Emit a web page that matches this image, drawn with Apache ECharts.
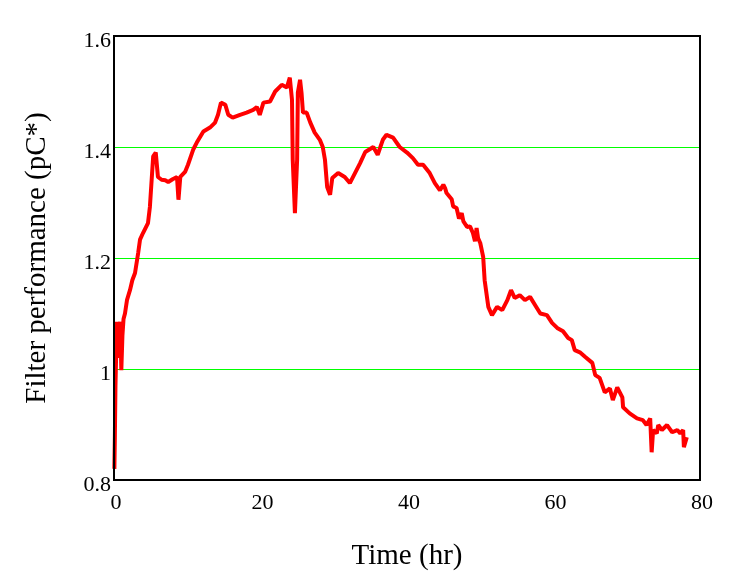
<!DOCTYPE html>
<html>
<head>
<meta charset="utf-8">
<script src="https://cdn.jsdelivr.net/npm/echarts@6/dist/echarts.min.js"></script>
<style>
html,body{margin:0;padding:0;background:#fff;}
#chart{width:738px;height:588px;}
</style>
</head>
<body>
<div id="chart"></div>
<script>
var timeHr = [0.05,0.12,0.2,0.3,0.4,0.55,0.7,0.85,1.0,1.15,1.3,1.5,1.77,2.18,2.5,2.87,3.3,3.55,3.96,4.64,4.9,5.2,5.35,5.7,6.0,6.5,7.0,7.4,8.0,8.6,8.8,8.95,9.05,9.7,10.1,10.8,11.3,12.2,13.1,13.8,14.2,14.6,15.2,15.6,16.2,17.2,18.1,19.0,19.5,19.9,20.4,21.3,22.0,22.9,23.6,24.0,24.3,24.4,24.7,25.0,25.1,25.4,25.6,25.8,26.3,26.8,27.4,28.1,28.5,28.8,29.1,29.5,29.8,30.6,31.5,32.2,32.9,33.6,34.3,35.4,36.0,36.7,37.2,38.1,39.0,40.0,40.8,41.5,42.2,43.1,43.8,44.5,44.96,45.2,45.4,46.1,46.3,46.77,47.1,47.47,47.7,48.2,48.6,49.0,49.28,49.5,49.7,50.0,50.4,50.6,51.1,51.6,52.3,53.0,53.7,54.2,54.7,55.4,56.1,56.8,57.5,58.2,59.1,59.8,60.5,61.3,62.0,62.5,62.9,63.6,64.3,65.3,65.7,66.3,67.0,67.7,68.1,68.7,69.4,69.5,70.4,71.4,72.2,72.7,73.2,73.4,73.6,74.1,74.3,74.8,75.5,76.2,76.9,77.3,77.7,77.8,78.2];
var filterPerf = [0.82,0.88,0.97,1.03,1.085,1.02,1.07,1.085,0.998,1.06,1.09,1.1,1.124,1.142,1.16,1.173,1.209,1.233,1.245,1.263,1.292,1.353,1.383,1.39,1.346,1.341,1.34,1.337,1.342,1.346,1.305,1.305,1.346,1.355,1.368,1.395,1.408,1.428,1.435,1.444,1.458,1.48,1.476,1.458,1.453,1.458,1.462,1.467,1.472,1.458,1.48,1.482,1.5,1.512,1.507,1.525,1.485,1.377,1.281,1.377,1.498,1.521,1.498,1.462,1.462,1.444,1.426,1.413,1.4,1.377,1.328,1.314,1.344,1.353,1.346,1.335,1.353,1.371,1.391,1.4,1.386,1.413,1.422,1.417,1.4,1.39,1.38,1.368,1.368,1.353,1.335,1.322,1.332,1.326,1.317,1.306,1.293,1.29,1.271,1.281,1.266,1.256,1.257,1.245,1.23,1.254,1.236,1.227,1.202,1.16,1.112,1.097,1.112,1.106,1.124,1.142,1.128,1.133,1.124,1.13,1.115,1.1,1.097,1.083,1.074,1.068,1.056,1.052,1.034,1.03,1.022,1.011,0.989,0.984,0.958,0.965,0.944,0.967,0.949,0.931,0.92,0.911,0.908,0.899,0.911,0.85,0.89,0.884,0.899,0.89,0.899,0.886,0.89,0.884,0.89,0.859,0.877];
var xTicks = {min: 0, max: 80, interval: 20};
var yTicks = {min: 0.8, max: 1.6, interval: 0.2};
var xName = 'Time (hr)';
var yName = 'Filter performance (pC*)';

var seriesData = timeHr.map(function (t, i) { return [t, filterPerf[i]]; });
var serif = '"Liberation Serif", "DejaVu Serif", serif';

var chart = echarts.init(document.getElementById('chart'));
chart.setOption({
  animation: false,
  backgroundColor: '#fff',
  grid: {left: 114, top: 36, right: 38, bottom: 108, show: true, borderColor: '#000', borderWidth: 2, backgroundColor: 'transparent', z: 5},
  xAxis: {
    type: 'value', min: xTicks.min, max: xTicks.max, interval: xTicks.interval,
    name: xName, nameLocation: 'middle', nameGap: 62,
    nameTextStyle: {fontFamily: serif, fontSize: 29, color: '#000'},
    axisLine: {show: false}, axisTick: {show: false}, splitLine: {show: false},
    axisLabel: {fontFamily: serif, fontSize: 22, color: '#000', margin: 12, padding: [0, 0, 0, 4]}
  },
  yAxis: {
    type: 'value', min: yTicks.min, max: yTicks.max, interval: yTicks.interval,
    name: yName, nameLocation: 'middle', nameGap: 62,
    nameTextStyle: {fontFamily: serif, fontSize: 29, color: '#000'},
    axisLine: {show: false}, axisTick: {show: false},
    splitLine: {show: true, showMinLine: false, showMaxLine: false, lineStyle: {color: '#00ff00', width: 1}},
    axisLabel: {fontFamily: serif, fontSize: 22, color: '#000', margin: 3, verticalAlign: 'top', lineHeight: 10,
      formatter: function (v) { return String(Math.round(v * 10) / 10); }}
  },
  series: [{
    type: 'line', data: seriesData, showSymbol: false, symbol: 'none',
    lineStyle: {color: '#ff0000', width: 4}, itemStyle: {color: '#ff0000'}
  }]
});
</script>
</body>
</html>
